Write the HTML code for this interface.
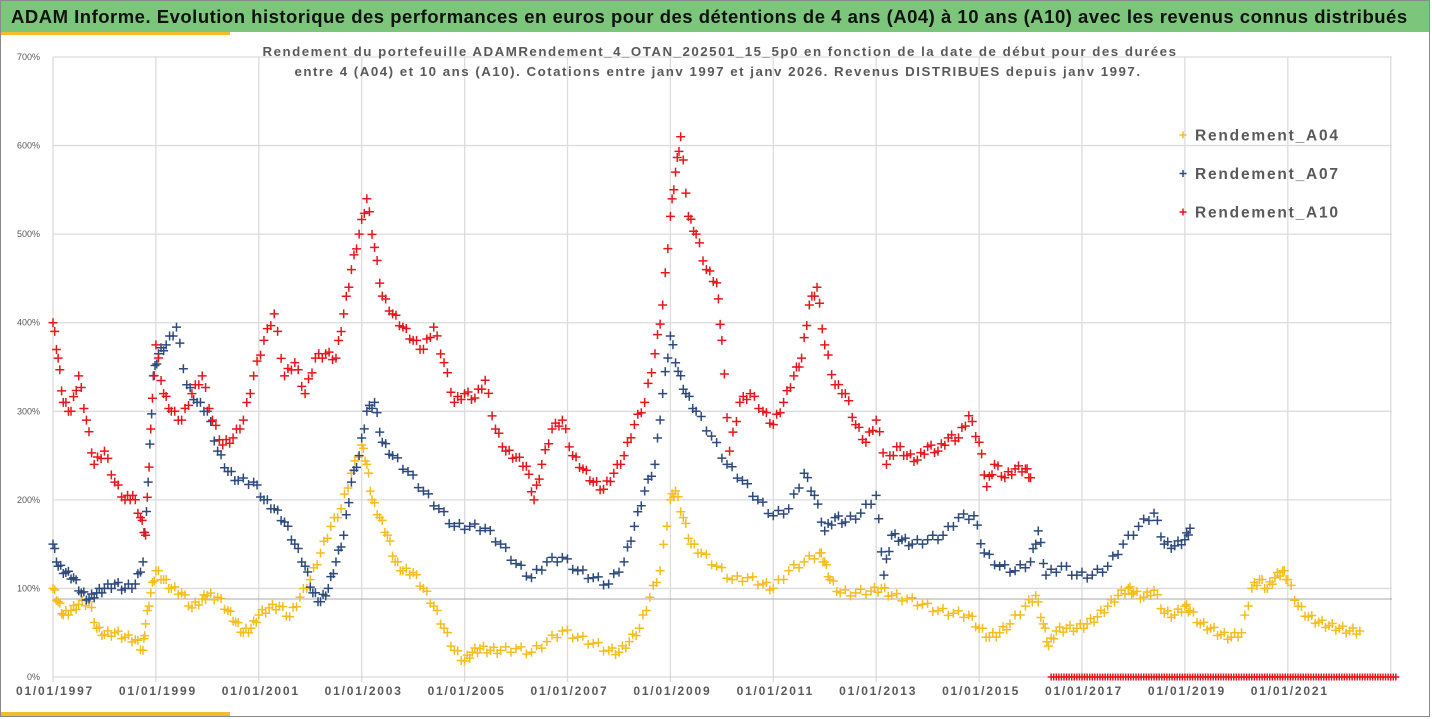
<!DOCTYPE html>
<html><head><meta charset="utf-8"><style>
body{margin:0;width:1432px;height:719px;background:#fff;font-family:"Liberation Sans",sans-serif;overflow:hidden}
#wrap{position:absolute;left:0;top:0;width:1430px;height:717px;border:1px solid #8a8a8a;box-sizing:border-box}
#title{position:absolute;left:1px;top:1px;width:1428px;height:31px;background:#7cc67c;font-weight:bold;font-size:18.5px;letter-spacing:0.5px;line-height:31px;padding-left:10px;box-sizing:border-box;color:#111;white-space:nowrap;overflow:hidden}
.ybar{position:absolute;left:1px;width:229px;height:3px;background:#f0be2c}
</style></head><body>
<div id="wrap"></div>
<div id="title">ADAM Informe. Evolution historique des performances en euros pour des détentions de 4 ans (A04) à 10 ans (A10) avec les revenus connus distribués</div>
<div class="ybar" style="top:32px"></div>
<div class="ybar" style="top:712px;height:4px"></div>
<svg id="chart" width="1432" height="719" style="position:absolute;left:0;top:0"></svg>
<script>
const yTicks=[0,100,200,300,400,500,600,700];
const xTickYears=[1997,1999,2001,2003,2005,2007,2009,2011,2013,2015,2017,2019,2021];
const seriesNames=["Rendement_A04","Rendement_A07","Rendement_A10"];
const seriesColors=["#f5bd1f","#2e4a7d","#e8161b"];
const a04Years=[1997.0,1997.1,1997.2,1997.35,1997.5,1997.7,1997.85,1998.0,1998.2,1998.4,1998.6,1998.75,1998.8,1998.9,1999.0,1999.15,1999.3,1999.5,1999.7,1999.9,2000.0,2000.2,2000.4,2000.55,2000.7,2000.85,2001.0,2001.2,2001.4,2001.6,2001.8,2002.0,2002.2,2002.4,2002.6,2002.8,2003.0,2003.1,2003.2,2003.35,2003.5,2003.65,2003.8,2004.0,2004.2,2004.4,2004.6,2004.8,2005.0,2005.15,2005.3,2005.5,2005.7,2006.0,2006.3,2006.6,2006.9,2007.2,2007.5,2007.8,2008.0,2008.2,2008.4,2008.6,2008.8,2009.0,2009.1,2009.25,2009.4,2009.6,2009.9,2010.2,2010.5,2010.8,2011.0,2011.3,2011.6,2011.9,2012.0,2012.1,2012.3,2012.6,2012.9,2013.1,2013.3,2013.6,2013.9,2014.2,2014.5,2014.8,2015.0,2015.2,2015.4,2015.6,2015.9,2016.1,2016.25,2016.35,2016.5,2016.7,2016.9,2017.1,2017.3,2017.5,2017.7,2017.9,2018.0,2018.2,2018.4,2018.6,2018.8,2019.0,2019.1,2019.3,2019.5,2019.7,2019.9,2020.1,2020.3,2020.45,2020.6,2020.75,2020.9,2021.0,2021.2,2021.4,2021.6,2021.8,2022.0,2022.2,2022.4];
const a04Values=[100,85,70,75,82,85,55,48,50,45,42,30,60,95,120,110,100,95,78,88,92,90,75,62,50,55,70,78,80,68,90,110,140,170,190,230,262,240,200,180,160,130,120,118,100,80,55,30,18,28,32,30,30,32,28,40,52,45,38,30,28,40,55,90,120,200,210,180,150,140,125,110,112,105,100,120,130,140,130,110,95,95,97,100,92,88,82,75,72,70,55,45,50,60,80,92,60,35,52,55,55,60,68,80,92,100,95,90,98,72,70,80,75,60,55,48,45,50,100,110,100,112,120,110,80,68,62,58,55,52,52];
const a07Years=[1997.0,1997.1,1997.25,1997.4,1997.55,1997.7,1997.85,1998.0,1998.2,1998.4,1998.6,1998.75,1998.85,1998.95,1999.05,1999.2,1999.4,1999.6,1999.8,2000.0,2000.2,2000.4,2000.6,2000.9,2001.1,2001.3,2001.5,2001.7,2001.9,2002.05,2002.2,2002.35,2002.5,2002.65,2002.8,2002.95,2003.1,2003.25,2003.4,2003.6,2003.9,2004.2,2004.5,2004.8,2005.1,2005.4,2005.7,2006.0,2006.3,2006.6,2006.9,2007.2,2007.5,2007.8,2008.1,2008.3,2008.5,2008.7,2008.85,2009.0,2009.15,2009.3,2009.5,2009.8,2010.1,2010.4,2010.7,2011.0,2011.3,2011.6,2011.8,2012.0,2012.2,2012.4,2012.7,2013.0,2013.15,2013.3,2013.5,2013.7,2014.0,2014.3,2014.6,2014.9,2015.1,2015.4,2015.7,2016.0,2016.15,2016.3,2016.6,2016.9,2017.2,2017.5,2017.8,2018.1,2018.4,2018.6,2018.8,2019.0,2019.1];
const a07Values=[150,125,118,112,95,88,95,100,105,100,105,130,220,340,365,375,395,330,310,300,255,232,222,220,200,190,175,150,125,95,85,100,130,160,220,250,300,310,265,250,232,210,190,170,170,168,150,128,112,130,135,120,112,105,130,170,210,240,320,385,345,320,300,272,240,222,200,182,190,230,205,165,180,175,185,205,115,160,155,150,155,160,180,182,140,125,120,130,165,115,125,115,115,125,150,170,185,150,148,155,168];
const a10Years=[1997.0,1997.1,1997.2,1997.35,1997.5,1997.65,1997.8,1998.0,1998.2,1998.4,1998.55,1998.7,1998.8,1998.9,1999.0,1999.15,1999.3,1999.5,1999.7,1999.9,2000.1,2000.3,2000.5,2000.7,2000.9,2001.1,2001.3,2001.5,2001.7,2001.9,2002.1,2002.3,2002.5,2002.65,2002.8,2002.95,2003.1,2003.25,2003.4,2003.6,2003.8,2004.0,2004.2,2004.4,2004.6,2004.8,2005.0,2005.2,2005.4,2005.6,2005.8,2006.0,2006.2,2006.35,2006.5,2006.7,2006.9,2007.1,2007.3,2007.5,2007.7,2007.9,2008.1,2008.3,2008.5,2008.7,2008.85,2009.0,2009.1,2009.2,2009.35,2009.5,2009.7,2009.9,2010.0,2010.15,2010.35,2010.55,2010.8,2011.0,2011.2,2011.4,2011.55,2011.7,2011.85,2012.0,2012.2,2012.4,2012.6,2012.8,2013.0,2013.2,2013.4,2013.6,2013.8,2014.0,2014.2,2014.4,2014.6,2014.8,2015.0,2015.15,2015.3,2015.5,2015.7,2015.9,2016.0];
const a10Values=[400,360,310,300,340,290,240,255,220,200,205,180,160,280,375,320,300,290,320,340,290,262,270,290,340,380,410,340,355,320,360,365,360,410,460,500,540,485,430,410,395,380,370,395,355,310,320,315,335,280,255,248,238,200,240,280,290,250,235,220,212,230,250,285,310,365,420,520,570,610,520,500,460,445,380,255,310,320,300,285,310,340,360,420,440,375,330,320,285,265,290,240,260,250,245,260,255,270,270,295,265,215,240,225,235,235,225];
const a10ZeroStart=2016.4, a10ZeroEnd=2023.1;

const NS="http://www.w3.org/2000/svg";
const svg=document.getElementById('chart');
const X0=53, PXY=51.45, Y0=677, PXP=0.8857, XR=1392;
const xScale=yr=>X0+(yr-1997)*PXY;
const yScale=v=>Y0-v*PXP;
function mk(tag,attrs){const e=document.createElementNS(NS,tag);for(const k in attrs)e.setAttribute(k,attrs[k]);svg.appendChild(e);return e;}
yTicks.forEach(t=>{
  if(t>0){const l=mk('line',{x1:X0,x2:XR,y1:yScale(t),y2:yScale(t),stroke:'#dcdcdc','stroke-width':1.3});
  
  }
  const tx=mk('text',{x:40,y:yScale(t)+3,'text-anchor':'end','font-size':9,fill:'#595959'});
  tx.textContent=t+'%';
  
  
});
for(let yr=1997;yr<=2023;yr+=2){
  const l=mk('line',{x1:xScale(yr),x2:xScale(yr),y1:yScale(700),y2:Y0+5,stroke:'#dcdcdc','stroke-width':1.3});
  
  
}
const ref=mk('line',{x1:X0,x2:XR,y1:599,y2:599,stroke:'#a8a8a8','stroke-width':1});


const base=mk('line',{x1:X0,x2:XR,y1:Y0,y2:Y0,stroke:'#d0d0d0','stroke-width':1});


xTickYears.forEach(yr=>{
  const tx=mk('text',{x:xScale(yr)+2,y:695,'text-anchor':'middle','font-size':12,'font-weight':'bold',fill:'#595959','letter-spacing':'1.8'});
  tx.textContent='01/01/'+yr;
  
  
});
['Rendement du portefeuille ADAMRendement_4_OTAN_202501_15_5p0  en fonction de la date de début pour des durées','entre 4 (A04) et 10 ans (A10). Cotations entre janv 1997 et janv 2026. Revenus DISTRIBUES depuis janv 1997.'].forEach((s,i)=>{
  const tx=mk('text',{x:[720,718][i],y:56+i*20,'text-anchor':'middle','font-size':13.3,'font-weight':'bold',fill:'#595959','letter-spacing':'1.5'});
  tx.textContent=s;
  
  
});
function plus(g,x,y,c,s){
  const p=document.createElementNS(NS,'path');
  p.setAttribute('d',`M${x-s} ${y}H${x+s}M${x} ${y-s}V${y+s}`);
  p.setAttribute('stroke',c);p.setAttribute('stroke-width',1.5);
  g.appendChild(p);
}
function drawSeries(years,vals,color,name){
  const g=mk('g',{});
  
  
  for(let i=0;i<years.length;i++){
    plus(g,xScale(years[i]),yScale(vals[i]),color,4.5);
    if(i<years.length-1){
      for(const f of [0.33,0.67]){
        const yr=years[i]+(years[i+1]-years[i])*f, v=vals[i]+(vals[i+1]-vals[i])*f;
        plus(g,xScale(yr),yScale(v)+((f>0.5)?3:-3),color,4.5);
      }
    }
  }
}
drawSeries(a04Years,a04Values,seriesColors[0],'series-a04');
drawSeries(a07Years,a07Values,seriesColors[1],'series-a07');
drawSeries(a10Years,a10Values,seriesColors[2],'series-a10');
const gz=mk('g',{});


for(let yr=a10ZeroStart;yr<=a10ZeroEnd;yr+=0.05)plus(gz,xScale(yr),yScale(0),seriesColors[2],3.5);
seriesNames.forEach((n,i)=>{
  const y=135+i*38.5;
  const g=mk('g',{});
  
  
  plus(g,1183,y,seriesColors[i],3.5);
  const tx=document.createElementNS(NS,'text');
  tx.setAttribute('x',1195);tx.setAttribute('y',y+5.5);tx.setAttribute('font-size',15.5);tx.setAttribute('font-weight','bold');tx.setAttribute('fill','#595959');tx.setAttribute('letter-spacing','1.8');
  tx.textContent=n;g.appendChild(tx);
});
</script>
</body></html>
